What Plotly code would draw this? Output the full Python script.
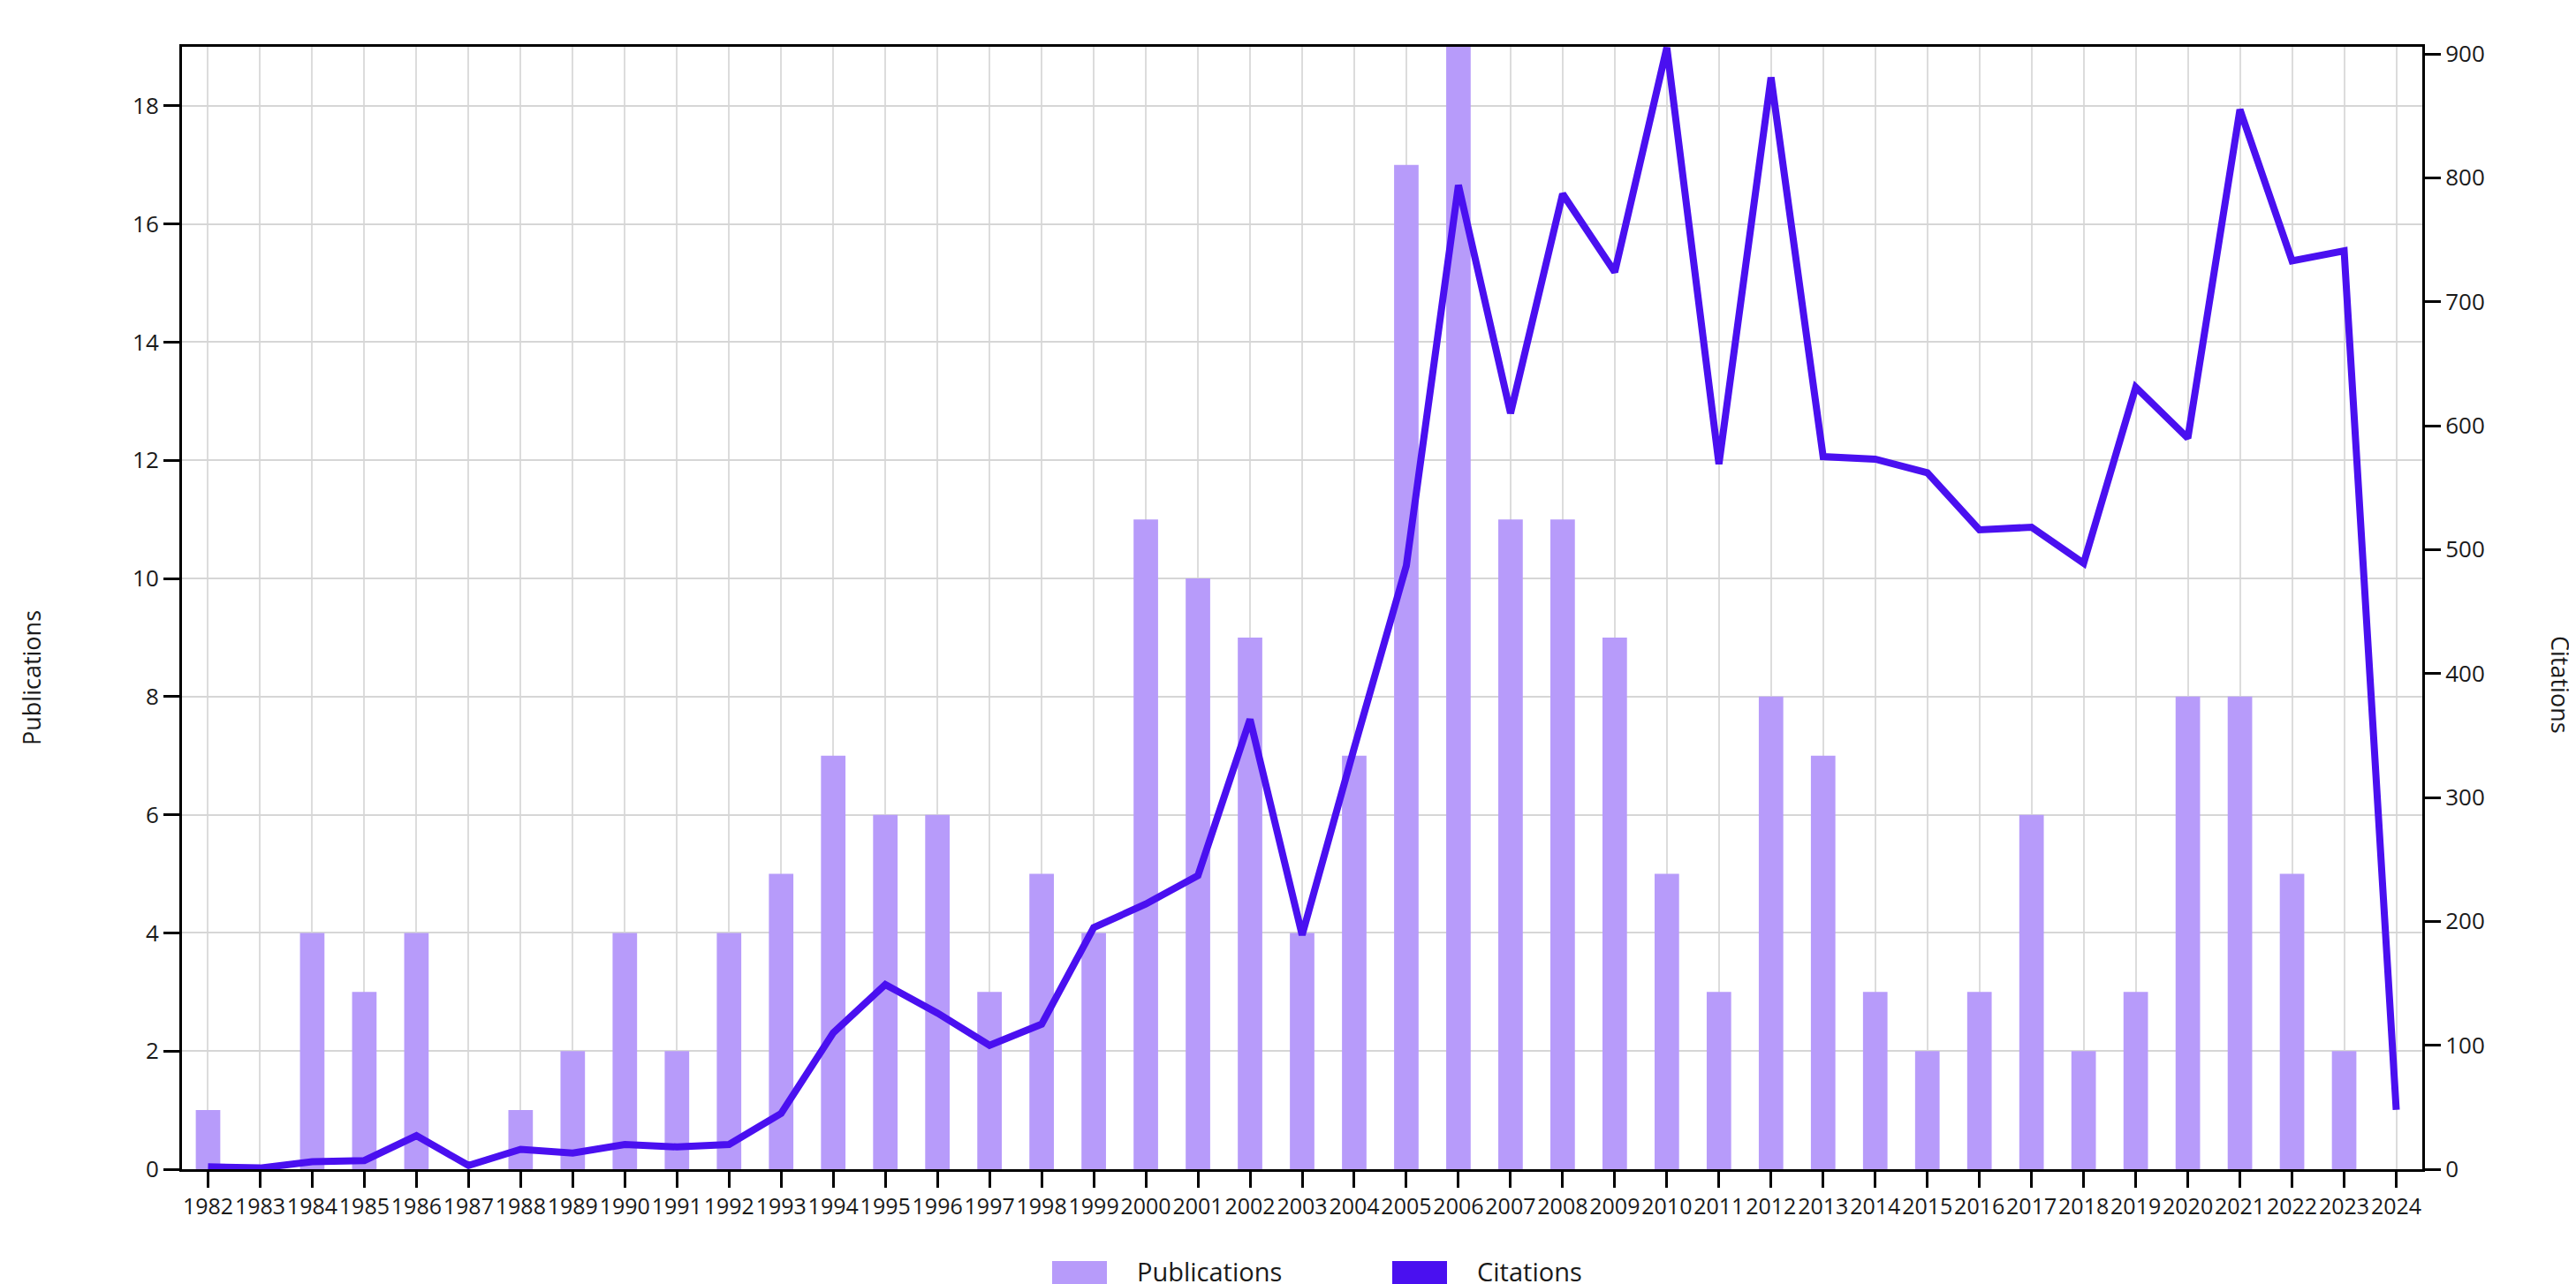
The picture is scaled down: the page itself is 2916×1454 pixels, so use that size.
import plotly.graph_objects as go

# ---- data ----
years = [str(y) for y in range(1982, 2025)]
publications = [1, 0, 4, 3, 4, 0, 1, 2, 4, 2, 4, 5, 7, 6, 6, 3, 5, 4, 11, 10, 9, 4, 7, 17, 19,
                11, 11, 9, 5, 3, 8, 7, 3, 2, 3, 6, 2, 3, 8, 8, 5, 2, 0]
citations = [2, 1, 6, 7, 27, 3, 16, 13, 20, 18, 20, 45, 110, 149, 126, 100, 117, 195, 214, 237,
             363, 189, 340, 487, 794, 610, 787, 724, 905, 569, 881, 575, 573, 562, 516, 518, 489,
             631, 590, 855, 733, 741, 48]
series_names = ["Publications", "Citations"]

# ---- style ----
BAR_COLOR = "#b79bfa"
LINE_COLOR = "#4a10f0"
W, H = 2916, 1454
PL, PR, PT, PB = 198, 2734, 45, 1316  # plot area in pixels
FONT = "Open Sans"


def px_x(px):
    return (px - PL) / (PR - PL)


def px_y(py):
    return (PB - py) / (PB - PT)


fig = go.Figure()
fig.add_trace(go.Bar(x=years, y=publications, name=series_names[0],
                     marker=dict(color=BAR_COLOR, line=dict(width=0)),
                     yaxis="y", showlegend=False))
fig.add_trace(go.Scatter(x=years, y=citations, name=series_names[1], mode="lines",
                         line=dict(color=LINE_COLOR, width=8),
                         yaxis="y2", showlegend=False, cliponaxis=False))

axis_common = dict(showline=True, linecolor="black", linewidth=3,
                   ticks="outside", ticklen=18, tickwidth=2.5, tickcolor="black",
                   tickfont=dict(family=FONT, size=26, color="#1a1a1a"))

fig.update_layout(
    width=W, height=H,
    margin=dict(l=PL, r=W - PR, t=PT, b=H - PB),
    plot_bgcolor="white", paper_bgcolor="white",
    bargap=0.53,
    showlegend=False,
    xaxis=dict(type="category", range=[-0.5, len(years) - 0.5], tickangle=0,
               showgrid=True, gridcolor="#dcdcdc", gridwidth=2, mirror=True,
               **{**axis_common, "tickfont": dict(family=FONT, size=25, color="#1a1a1a")}),
    yaxis=dict(range=[0, 19], dtick=2, showgrid=True, gridcolor="#d6d6d6", gridwidth=1.5,
               zeroline=False, **axis_common),
    yaxis2=dict(range=[0, 905.7], dtick=100, overlaying="y", side="right",
                showgrid=False, zeroline=False, **axis_common),
)

annotations = [
    dict(text="Publications", x=px_x(27), y=px_y(760), xref="paper", yref="paper",
         xanchor="center", yanchor="middle",
         textangle=-90, showarrow=False, font=dict(family=FONT, size=27, color="#1a1a1a")),
    dict(text="Citations", x=px_x(2891), y=px_y(767), xref="paper", yref="paper",
         xanchor="center", yanchor="middle",
         textangle=90, showarrow=False, font=dict(family=FONT, size=27, color="#1a1a1a")),
]

# custom legend (large square keys, as in the reference)
legend_items = [(series_names[0], BAR_COLOR, 1183, 1277),
                (series_names[1], LINE_COLOR, 1568, 1662)]
shapes = []
for name, color, sx, tx in legend_items:
    shapes.append(dict(type="rect", xref="paper", yref="paper",
                       x0=px_x(sx), x1=px_x(sx + 62), y0=px_y(1420), y1=px_y(1482),
                       fillcolor=color, line=dict(width=0), layer="above"))
    annotations.append(dict(text=name, x=px_x(tx), y=px_y(1453), xref="paper", yref="paper",
                            xanchor="left", yanchor="bottom", showarrow=False,
                            font=dict(family=FONT, size=29, color="#1a1a1a")))

fig.update_layout(annotations=annotations, shapes=shapes)
fig.write_html("out.html")
